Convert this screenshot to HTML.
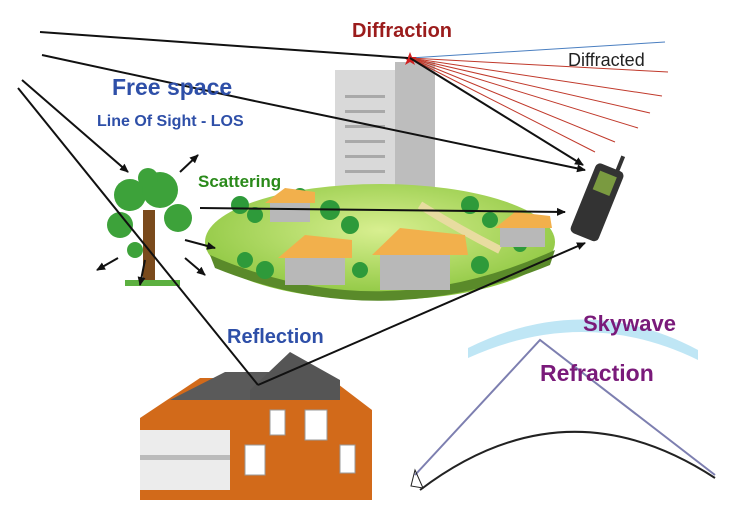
<!DOCTYPE html>
<html><head><meta charset="utf-8"><style>
html,body{margin:0;padding:0;background:#fff;width:730px;height:509px;overflow:hidden}
svg{display:block}
text{font-family:"Liberation Sans",sans-serif;font-weight:bold}
</style></head><body>
<svg width="730" height="509" viewBox="0 0 730 509" xmlns="http://www.w3.org/2000/svg">
<defs>
<marker id="a" markerWidth="10" markerHeight="10" refX="8" refY="5" orient="auto" markerUnits="userSpaceOnUse"><path d="M0,1 L9,5 L0,9z" fill="#111"/></marker>
<radialGradient id="g" cx="50%" cy="40%" r="60%"><stop offset="0" stop-color="#d8ef90"/><stop offset="1" stop-color="#8cc63f"/></radialGradient>
</defs>
<rect x="335" y="80" width="100" height="125" fill="#c9c9c9"/>
<rect x="335" y="70" width="60" height="135" fill="#d9d9d9"/>
<rect x="395" y="62" width="40" height="143" fill="#bdbdbd"/>
<g fill="#a9a9a9"><rect x="345" y="95" width="40" height="3"/><rect x="345" y="110" width="40" height="3"/><rect x="345" y="125" width="40" height="3"/><rect x="345" y="140" width="40" height="3"/><rect x="345" y="155" width="40" height="3"/><rect x="345" y="170" width="40" height="3"/></g>
<ellipse cx="380" cy="242" rx="175" ry="58" fill="url(#g)"/>
<path d="M210,255 Q380,330 555,250 L550,265 Q380,335 215,268z" fill="#5a8a2a"/>
<path d="M420,205 Q460,230 500,250" stroke="#e8dca0" stroke-width="8" fill="none"/>
<g fill="#2e9a3a">
<circle cx="240" cy="205" r="9"/><circle cx="255" cy="215" r="8"/><circle cx="330" cy="210" r="10"/><circle cx="350" cy="225" r="9"/><circle cx="470" cy="205" r="9"/><circle cx="490" cy="220" r="8"/><circle cx="265" cy="270" r="9"/><circle cx="245" cy="260" r="8"/><circle cx="360" cy="270" r="8"/><circle cx="480" cy="265" r="9"/><circle cx="520" cy="245" r="7"/><circle cx="300" cy="195" r="7"/>
</g>
<g>
<rect x="285" y="255" width="60" height="30" fill="#b8b8b8"/><polygon points="278,258 305,235 352,240 352,258" fill="#f2b04c"/>
<rect x="380" y="252" width="70" height="38" fill="#b8b8b8"/><polygon points="372,255 400,228 465,235 468,255" fill="#f2b04c"/>
<rect x="270" y="200" width="40" height="22" fill="#b8b8b8"/><polygon points="265,203 285,188 315,192 315,203" fill="#f2b04c"/>
<rect x="500" y="225" width="45" height="22" fill="#b8b8b8"/><polygon points="495,228 515,212 550,216 552,228" fill="#f2b04c"/>
</g>
<rect x="143" y="210" width="12" height="75" fill="#7a4a1c"/>
<g fill="#3da23a"><circle cx="130" cy="195" r="16"/><circle cx="160" cy="190" r="18"/><circle cx="120" cy="225" r="13"/><circle cx="178" cy="218" r="14"/><circle cx="148" cy="178" r="10"/><circle cx="135" cy="250" r="8"/></g>
<rect x="125" y="280" width="55" height="6" fill="#5cb040"/>
<g transform="rotate(22 598 200)"><rect x="583" y="165" width="30" height="75" rx="5" fill="#333"/><rect x="589" y="172" width="18" height="20" fill="#7a9a40"/><rect x="603" y="150" width="4" height="18" fill="#333"/></g>
<polygon points="140,418 200,378 330,378 372,410 372,500 140,500" fill="#d26a1a"/>
<polygon points="170,400 225,372 300,372 340,400" fill="#5a5a5a"/>
<polygon points="250,390 290,352 340,380 340,400 250,400" fill="#555"/>
<rect x="140" y="430" width="90" height="60" fill="#ececec"/>
<rect x="140" y="455" width="90" height="5" fill="#bbb"/>
<g fill="#fff" stroke="#999"><rect x="245" y="445" width="20" height="30"/><rect x="305" y="410" width="22" height="30"/><rect x="340" y="445" width="15" height="28"/><rect x="270" y="410" width="15" height="25"/></g>
<path d="M468,348 Q585,290 698,350 L698,360 Q585,305 468,358z" fill="#bfe6f5"/>
<path d="M415,475 L540,340 L715,475" stroke="#7d7fb0" stroke-width="2" fill="none"/>
<path d="M420,490 Q565,380 715,478" stroke="#222" stroke-width="2" fill="none"/>
<path d="M415,470 l8,18 l-12,-2z" fill="none" stroke="#222"/>
<g stroke="#c0392b" stroke-width="1">
<line x1="410" y1="58" x2="668" y2="72"/><line x1="410" y1="58" x2="662" y2="96"/><line x1="410" y1="58" x2="650" y2="113"/><line x1="410" y1="58" x2="638" y2="128"/><line x1="410" y1="58" x2="615" y2="142"/><line x1="410" y1="58" x2="595" y2="152"/>
</g>
<line x1="410" y1="58" x2="665" y2="42" stroke="#4a7fc0"/>
<polygon points="410,52 412,57 417,57 413,60 415,65 410,62 405,65 407,60 403,57 408,57" fill="#d02020"/>
<g stroke="#111" stroke-width="2" fill="none">
<line x1="40" y1="32" x2="408" y2="58"/>
<line x1="410" y1="58" x2="583" y2="165" marker-end="url(#a)"/>
<polyline points="42,55 250,100 585,170" marker-end="url(#a)"/>
<line x1="22" y1="80" x2="128" y2="172" marker-end="url(#a)"/>
<line x1="18" y1="88" x2="258" y2="385"/>
<line x1="258" y1="385" x2="585" y2="243" marker-end="url(#a)"/>
<line x1="200" y1="208" x2="565" y2="212" marker-end="url(#a)"/>
<line x1="180" y1="172" x2="198" y2="155" marker-end="url(#a)"/>
<line x1="185" y1="240" x2="215" y2="248" marker-end="url(#a)"/>
<line x1="185" y1="258" x2="205" y2="275" marker-end="url(#a)"/>
<line x1="118" y1="258" x2="97" y2="270" marker-end="url(#a)"/>
<line x1="145" y1="260" x2="140" y2="285" marker-end="url(#a)"/>
</g>
<text x="352" y="37" font-size="20" fill="#9b1c1c">Diffraction</text>
<text x="568" y="66" font-size="18" fill="#222" style="font-weight:normal">Diffracted</text>
<text x="112" y="95" font-size="23" fill="#2e4fa8">Free space</text>
<text x="97" y="126" font-size="16" fill="#2e4fa8">Line Of Sight - LOS</text>
<text x="198" y="187" font-size="17" fill="#2a8a1a">Scattering</text>
<text x="227" y="343" font-size="20" fill="#2e4fa8">Reflection</text>
<text x="583" y="331" font-size="22" fill="#7a1a7a">Skywave</text>
<text x="540" y="381" font-size="23" fill="#7a1a7a">Refraction</text>
</svg>
</body></html>
